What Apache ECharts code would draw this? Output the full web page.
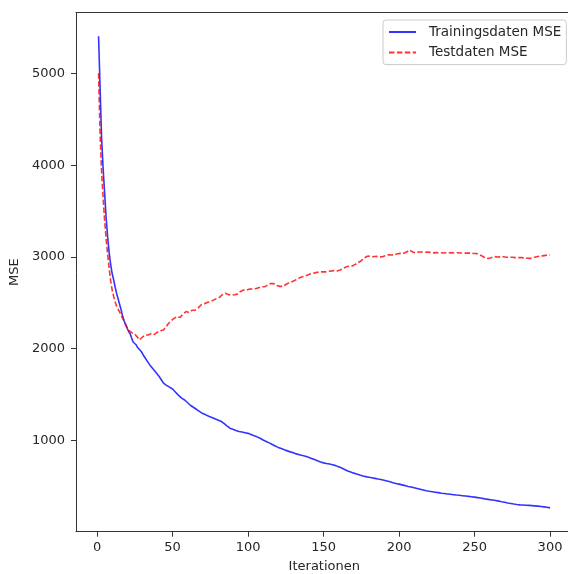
<!DOCTYPE html>
<html>
<head>
<meta charset="utf-8">
<script src="https://cdn.jsdelivr.net/npm/echarts@6/dist/echarts.min.js"></script>
<style>
  html, body { margin: 0; padding: 0; background: #ffffff; }
  #chart { width: 568px; height: 574px; }
</style>
</head>
<body>
<div id="chart"></div>
<script>
// Mean squared error per training iteration (1..300)
const seriesNames = ['Trainingsdaten MSE', 'Testdaten MSE'];

const trainMSE = [
  5409, 4850, 4300, 3970, 3700, 3430, 3220, 3050, 2920, 2820,
  2749, 2670, 2600, 2540, 2480, 2420, 2350, 2300, 2260, 2220,
  2185, 2160, 2110, 2070, 2050, 2040, 2010, 1990, 1975, 1950,
  1920, 1895, 1870, 1850, 1820, 1800, 1780, 1760, 1740, 1720,
  1700, 1675, 1650, 1625, 1610, 1600, 1590, 1580, 1570, 1560,
  1545, 1525, 1505, 1490, 1475, 1460, 1450, 1440, 1425, 1410,
  1395, 1380, 1368, 1358, 1348, 1336, 1325, 1313, 1300, 1292,
  1285, 1278, 1270, 1262, 1255, 1250, 1243, 1236, 1228, 1222,
  1215, 1208, 1198, 1185, 1170, 1158, 1145, 1133, 1125, 1120,
  1114, 1108, 1102, 1097, 1093, 1090, 1087, 1083, 1080, 1076,
  1070, 1063, 1056, 1050, 1044, 1038, 1030, 1022, 1012, 1003,
  995, 988, 980, 972, 964, 955, 947, 938, 930, 923,
  917, 910, 903, 896, 890, 885, 880, 874, 869, 864,
  858, 852, 847, 843, 838, 834, 830, 826, 822, 816,
  810, 803, 797, 790, 783, 776, 769, 763, 758, 754,
  750, 747, 744, 741, 738, 734, 730, 724, 718, 711,
  705, 698, 690, 682, 674, 666, 660, 654, 648, 642,
  637, 632, 626, 621, 616, 611, 607, 604, 601, 598,
  595, 592, 589, 585, 582, 578, 575, 572, 568, 564,
  560, 556, 552, 547, 542, 537, 533, 529, 526, 522,
  518, 514, 510, 506, 501, 497, 494, 490, 486, 482,
  478, 474, 470, 466, 462, 458, 454, 450, 447, 444,
  441, 439, 436, 434, 431, 429, 426, 423, 421, 419,
  417, 415, 413, 411, 409, 407, 405, 403, 402, 400,
  398, 396, 394, 392, 390, 388, 386, 384, 382, 380,
  378, 375, 372, 370, 367, 364, 361, 358, 356, 353,
  351, 349, 346, 343, 340, 337, 334, 330, 327, 324,
  320, 317, 314, 311, 308, 305, 302, 300, 298, 296,
  295, 294, 293, 292, 291, 290, 289, 288, 287, 285,
  284, 282, 280, 278, 276, 274, 272, 269, 266, 263
];

const testMSE = [
  5005, 4350, 3930, 3650, 3400, 3200, 3030, 2880, 2740, 2640,
  2570, 2510, 2460, 2430, 2400, 2360, 2330, 2300, 2260, 2230,
  2200, 2185, 2175, 2165, 2160, 2150, 2120, 2095, 2100, 2125,
  2140, 2150, 2145, 2150, 2160, 2165, 2160, 2155, 2165, 2180,
  2190, 2195, 2200, 2205, 2220, 2245, 2270, 2290, 2305, 2315,
  2330, 2345, 2350, 2345, 2340, 2355, 2380, 2395, 2405, 2400,
  2395, 2405, 2420, 2425, 2420, 2430, 2445, 2465, 2480, 2485,
  2490, 2500, 2505, 2510, 2512, 2520, 2530, 2540, 2545, 2550,
  2560, 2575, 2590, 2600, 2605, 2600, 2590, 2585, 2585, 2590,
  2588, 2585, 2595, 2610, 2625, 2635, 2640, 2640, 2640, 2645,
  2650, 2655, 2652, 2650, 2655, 2660, 2665, 2670, 2675, 2672,
  2675, 2680, 2695, 2705, 2712, 2715, 2710, 2700, 2690, 2685,
  2680, 2678, 2680, 2690, 2700, 2710, 2718, 2725, 2730, 2735,
  2745, 2755, 2765, 2775, 2780, 2785, 2790, 2795, 2800, 2810,
  2815, 2820, 2822, 2825, 2830, 2835, 2838, 2840, 2838, 2836,
  2838, 2840, 2842, 2845, 2848, 2850, 2852, 2850, 2848, 2852,
  2858, 2866, 2875, 2885, 2893, 2898, 2900, 2898, 2902, 2910,
  2920, 2930, 2940, 2950, 2960, 2975, 2990, 3000, 3008, 3012,
  3010, 3005, 3003, 3005, 3008, 3005, 3002, 3000, 3003, 3008,
  3015, 3020, 3025, 3025, 3022, 3022, 3025, 3030, 3035, 3038,
  3040, 3040, 3042, 3045, 3055, 3068, 3076, 3068, 3055, 3048,
  3045, 3048, 3055, 3058, 3055, 3050, 3052, 3058, 3055, 3050,
  3048, 3046, 3045, 3046, 3048, 3048, 3047, 3045, 3044, 3045,
  3047, 3048, 3047, 3046, 3045, 3046, 3047, 3047, 3046, 3045,
  3044, 3043, 3042, 3042, 3043, 3044, 3043, 3041, 3040, 3040,
  3038, 3034, 3028, 3022, 3012, 3000, 2990, 2985, 2984, 2986,
  2992, 3000, 3005, 3004, 3000, 2998, 3002, 3004, 3003, 3000,
  2998, 2997, 2998, 2999, 2997, 2996, 2994, 2993, 2994, 2995,
  2994, 2992, 2990, 2988, 2986, 2985, 2985, 2987, 2992, 2998,
  3003, 3007, 3010, 3012, 3013, 3015, 3018, 3020, 3021, 3022
];

const xTicks = [0, 50, 100, 150, 200, 250, 300];
const yTicks = [1000, 2000, 3000, 4000, 5000];

// pair each value with its iteration number (first iteration = 1)
const withIteration = arr => arr.map((v, i) => [i + 1, v]);

const FONT = 'DejaVu Sans';
const INK = '#262626';
const SPINE = '#333333';
const plain = v => String(v);

const chart = echarts.init(document.getElementById('chart'), null, { renderer: 'canvas' });

chart.setOption({
  animation: false,
  backgroundColor: '#ffffff',
  grid: {
    left: 76,
    right: -4.6,
    top: 12.7,
    bottom: 42.3,
    containLabel: false,
    outerBoundsMode: 'none',
    show: false
  },
  legend: {
    orient: 'vertical',
    left: 383,
    top: 20,
    padding: [5, 5, 5, 5],
    itemWidth: 27,
    itemHeight: 10,
    itemGap: 6.6,
    backgroundColor: 'rgba(255,255,255,0.8)',
    borderColor: '#cccccc',
    borderWidth: 1,
    borderRadius: 3,
    itemStyle: { opacity: 0 },
    textStyle: {
      fontFamily: FONT,
      fontSize: 13.5,
      color: INK,
      lineHeight: 14,
      padding: [0, 0, 0, 8]
    },
    data: seriesNames
  },
  xAxis: [
    {
      type: 'value',
      min: -13.95,
      max: 314.95,
      name: 'Iterationen',
      nameLocation: 'middle',
      nameGap: 28,
      nameTextStyle: { fontFamily: FONT, fontSize: 13, color: INK },
      axisLine: { show: true, onZero: false, lineStyle: { color: SPINE, width: 1 } },
      axisTick: { show: true, length: 5, lineStyle: { color: SPINE }, customValues: xTicks },
      axisLabel: {
        fontFamily: FONT, fontSize: 13, color: INK, margin: 9,
        customValues: xTicks, formatter: plain
      },
      splitLine: { show: false }
    },
    {
      // top frame line
      type: 'value',
      position: 'top',
      min: -13.95,
      max: 314.95,
      axisLine: { show: true, onZero: false, lineStyle: { color: SPINE, width: 1 } },
      axisTick: { show: false },
      axisLabel: { show: false },
      splitLine: { show: false }
    }
  ],
  yAxis: {
    type: 'value',
    min: 3,
    max: 5666,
    name: 'MSE',
    nameLocation: 'middle',
    nameGap: 49,
    nameRotate: 90,
    nameTextStyle: { fontFamily: FONT, fontSize: 13, color: INK },
    axisLine: { show: true, onZero: false, lineStyle: { color: SPINE, width: 1 } },
    axisTick: { show: true, length: 5, lineStyle: { color: SPINE }, customValues: yTicks },
    axisLabel: {
      fontFamily: FONT, fontSize: 13, color: INK, margin: 11,
      customValues: yTicks, formatter: plain
    },
    splitLine: { show: false }
  },
  series: [
    {
      name: seriesNames[0],
      type: 'line',
      xAxisIndex: 0,
      data: withIteration(trainMSE),
      showSymbol: false,
      symbol: 'none',
      lineStyle: { color: 'rgba(0,0,255,0.8)', width: 1.6 },
      itemStyle: { color: 'rgba(0,0,255,0.8)' }
    },
    {
      name: seriesNames[1],
      type: 'line',
      xAxisIndex: 0,
      data: withIteration(testMSE),
      showSymbol: false,
      symbol: 'none',
      lineStyle: { color: 'rgba(255,0,0,0.8)', width: 1.6, type: [5.5, 2.4] },
      itemStyle: { color: 'rgba(255,0,0,0.8)' }
    }
  ]
});
</script>
</body>
</html>
